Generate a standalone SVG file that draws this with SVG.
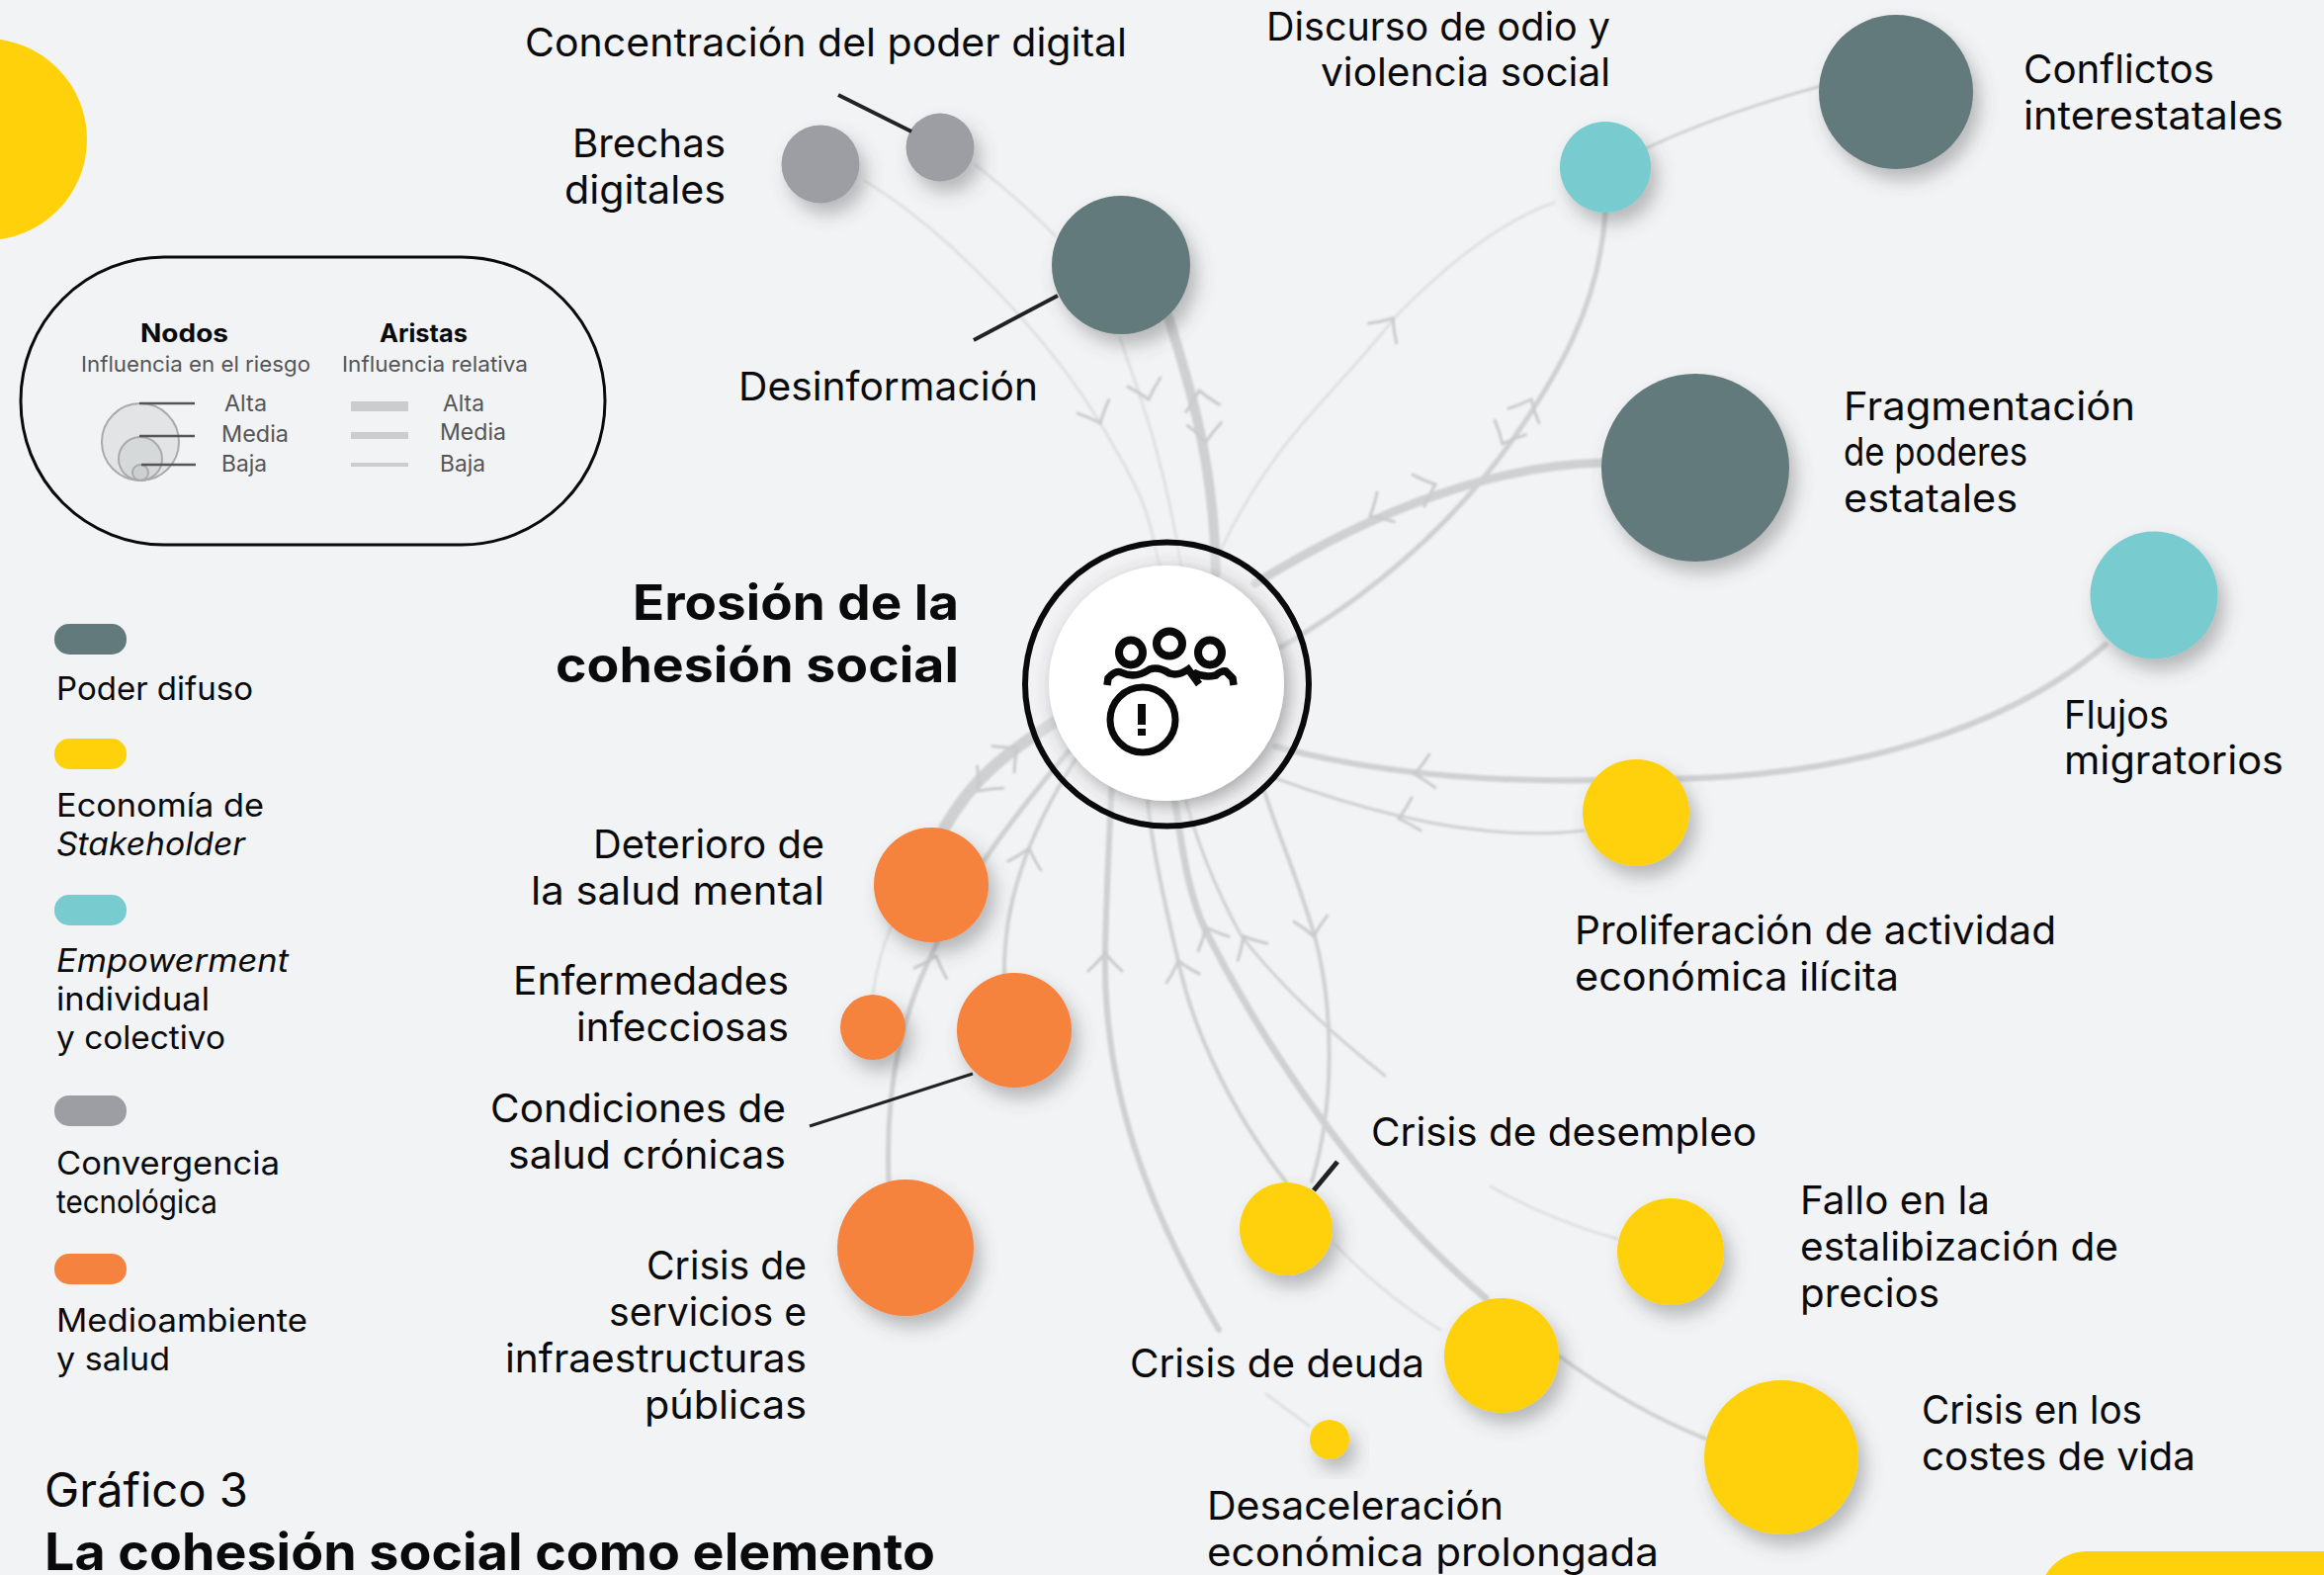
<svg xmlns="http://www.w3.org/2000/svg" xmlns:xlink="http://www.w3.org/1999/xlink" width="2351" height="1593" viewBox="0 0 2351 1593">
<style>
text{font-family:Inter,"Liberation Sans",sans-serif;fill:#0a0a0a}
.l{font-size:40px}
.c{font-size:33px}
.t{font-size:50px;font-weight:700}
.n{font-size:25px;font-weight:700}
.s{font-size:22px;fill:#555}
.m{font-size:23px;fill:#555}
.e{fill:none;stroke:#cfd0d2;stroke-linecap:round}
.f{fill:none;stroke:#dfe0e2;stroke-linecap:round;stroke-width:3}
.a{fill:none;stroke:#c9cacc;stroke-width:3}
.k{stroke:#222;fill:none}
.sh{filter:url(#ds)}
.g{fill:#627a7b}.y{fill:#ffd10a}.b{fill:#78cbcf}.h{fill:#9d9ea3}.o{fill:#f5823e}
</style>
<defs>
<filter id="ds" x="-40%" y="-40%" width="190%" height="190%"><feDropShadow dx="7" dy="11" stdDeviation="9" flood-color="#555" flood-opacity=".38"/></filter>
<filter id="dw" x="-20%" y="-20%" width="150%" height="150%"><feDropShadow dx="5" dy="5" stdDeviation="9" flood-color="#444" flood-opacity=".45"/></filter>
<filter id="soft" x="0" y="0" width="100%" height="100%" filterUnits="userSpaceOnUse"><feGaussianBlur stdDeviation=".8"/></filter>
<path id="ch" d="M-18,19 Q-8,10 0,0 Q8,10 18,19"/>
</defs>
<rect width="2351" height="1593" fill="#f2f3f5"/>
<circle cx="-14" cy="141" r="102" class="y"/>
<rect x="2063" y="1569" width="400" height="110" rx="48" class="y"/>

<g id="connectors" filter="url(#soft)">
<path class="f" d="M875,183 C960,235 1060,340 1113,428 S1160,520 1175,580"/>
<path class="f" d="M987,167 Q1035,205 1067,238"/>
<path class="f" d="M1133,342 C1150,390 1180,470 1196,580"/>
<path class="e" stroke-width="10" d="M1182,321 C1200,380 1228,460 1230,580"/>
<path class="f" d="M1233,560 C1290,440 1350,400 1411,321 Q1500,230 1572,205"/>
<path class="e" stroke-width="5" d="M1624,215 C1618,310 1575,380 1530,445 C1470,530 1390,600 1295,655"/>
<path class="e" stroke-width="3" d="M1665,150 Q1740,115 1842,87"/>
<path class="e" stroke-width="9" d="M1621,468 C1520,470 1400,510 1270,590"/>
<path class="e" stroke-width="6" d="M2130,652 C2040,730 1880,790 1660,788 C1560,792 1420,790 1290,755"/>
<path class="e" stroke-width="3" d="M1602,840 C1520,850 1420,835 1290,787"/>
<path class="e" stroke-width="12" d="M955,838 C985,785 1020,760 1075,725"/>
<path class="f" d="M883,1005 Q888,970 901,938"/>
<path class="e" stroke-width="5" d="M899,1195 C895,1090 915,1020 945,960 C975,890 1030,820 1085,755"/>
<path class="e" stroke-width="4" d="M1016,986 C1015,920 1035,850 1090,765"/>
<path class="e" stroke-width="6" d="M1233,1345 C1160,1220 1115,1100 1118,960 Q1120,880 1125,790"/>
<path class="f" d="M1281,1410 L1324,1442"/>
<path class="e" stroke-width="4" d="M1302,1197 C1250,1130 1210,1050 1194,981 C1180,920 1165,860 1160,800"/>
<path class="e" stroke-width="7" d="M1503,1313 C1380,1210 1280,1060 1220,942 C1200,900 1195,850 1187,800"/>
<path class="f" d="M1350,1258 Q1400,1310 1457,1345"/>
<path class="e" stroke-width="4" d="M1578,1372 Q1650,1425 1725,1455"/>
<path class="f" d="M1508,1200 Q1570,1235 1636,1253"/>
<path class="e" stroke-width="3" d="M1401,1088 C1340,1040 1290,990 1256,947 C1230,900 1210,850 1197,800"/>
<path class="e" stroke-width="4" d="M1327,1195 C1350,1120 1350,1020 1330,947 C1310,880 1295,850 1279,800"/>
<g class="a">
<use href="#ch" transform="translate(1113,428) rotate(157)"/>
<use href="#ch" transform="translate(1162,404) rotate(165)"/>
<use href="#ch" transform="translate(1213,395) rotate(-12)"/>
<use href="#ch" transform="translate(1220,447) rotate(175)"/>
<use href="#ch" transform="translate(1409,322) rotate(35)"/>
<use href="#ch" transform="translate(1549,404) rotate(25)"/>
<use href="#ch" transform="translate(1520,449) rotate(205)"/>
<use href="#ch" transform="translate(1452,490) rotate(70)"/>
<use href="#ch" transform="translate(1386,522) rotate(240)"/>
<use href="#ch" transform="translate(1431,783) rotate(260)"/>
<use href="#ch" transform="translate(1415,828) rotate(255)"/>
<use href="#ch" transform="translate(1029,756) rotate(50)"/>
<use href="#ch" transform="translate(990,800) rotate(220)"/>
<use href="#ch" transform="translate(947,967) rotate(18)"/>
<use href="#ch" transform="translate(1041,858) rotate(15)"/>
<use href="#ch" transform="translate(1118,964) rotate(0)"/>
<use href="#ch" transform="translate(1192,972) rotate(-15)"/>
<use href="#ch" transform="translate(1220,938) rotate(-25)"/>
<use href="#ch" transform="translate(1258,947) rotate(-30)"/>
<use href="#ch" transform="translate(1329,947) rotate(170)"/>
</g>
</g>

<g id="legend-size">
<rect x="21" y="260" width="591" height="291" rx="145" fill="none" stroke="#0a0a0a" stroke-width="3"/>
<text class="n" x="142" y="346" textLength="89" lengthAdjust="spacingAndGlyphs">Nodos</text>
<text class="s" x="82" y="376" textLength="232" lengthAdjust="spacingAndGlyphs">Influencia en el riesgo</text>
<text class="n" x="384" y="346" textLength="89" lengthAdjust="spacingAndGlyphs">Aristas</text>
<text class="s" x="346" y="376" textLength="188" lengthAdjust="spacingAndGlyphs">Influencia relativa</text>
<g fill="#b5b6b8" fill-opacity=".25" stroke="#a9aaac" stroke-width="2">
<circle cx="142" cy="447" r="39"/><circle cx="142" cy="464" r="22"/><circle cx="142" cy="478" r="8"/>
</g>
<g stroke="#555" stroke-width="2.5">
<line x1="141" y1="408" x2="197" y2="408"/><line x1="141" y1="441" x2="197" y2="441"/><line x1="143" y1="470" x2="198" y2="470"/>
</g>
<text class="m" x="227" y="416" textLength="43" lengthAdjust="spacingAndGlyphs">Alta</text>
<text class="m" x="224" y="447" textLength="68" lengthAdjust="spacingAndGlyphs">Media</text>
<text class="m" x="224" y="477" textLength="46" lengthAdjust="spacingAndGlyphs">Baja</text>
<g fill="#cbccce"><rect x="355" y="406" width="58" height="10"/><rect x="355" y="437" width="58" height="7"/><rect x="355" y="468" width="58" height="4"/></g>
<text class="m" x="448" y="416" textLength="42" lengthAdjust="spacingAndGlyphs">Alta</text>
<text class="m" x="445" y="445" textLength="67" lengthAdjust="spacingAndGlyphs">Media</text>
<text class="m" x="445" y="477" textLength="46" lengthAdjust="spacingAndGlyphs">Baja</text>
</g>

<g id="legend-categories">
<rect x="55" y="631" width="73" height="31" rx="15" class="g"/>
<text class="c" x="57" y="707.500" textLength="199" lengthAdjust="spacingAndGlyphs">Poder difuso</text>
<rect x="55" y="747" width="73" height="31" rx="15" class="y"/>
<text class="c" x="57" y="826" textLength="210" lengthAdjust="spacingAndGlyphs">Economía de</text>
<text class="c" x="57" y="865" textLength="191" lengthAdjust="spacingAndGlyphs" font-style="italic">Stakeholder</text>
<rect x="55" y="905" width="73" height="31" rx="15" class="b"/>
<text class="c" x="57" y="983" textLength="235" lengthAdjust="spacingAndGlyphs" font-style="italic">Empowerment</text>
<text class="c" x="57" y="1022" textLength="155" lengthAdjust="spacingAndGlyphs">individual</text>
<text class="c" x="57" y="1061" textLength="171" lengthAdjust="spacingAndGlyphs">y colectivo</text>
<rect x="55" y="1108" width="73" height="31" rx="15" class="h"/>
<text class="c" x="57" y="1187.500" textLength="226" lengthAdjust="spacingAndGlyphs">Convergencia</text>
<text class="c" x="57" y="1226.500" textLength="163" lengthAdjust="spacingAndGlyphs">tecnológica</text>
<rect x="55" y="1268" width="73" height="31" rx="15" class="o"/>
<text class="c" x="57" y="1346.500" textLength="254" lengthAdjust="spacingAndGlyphs">Medioambiente</text>
<text class="c" x="57" y="1385.500" textLength="115" lengthAdjust="spacingAndGlyphs">y salud</text>
</g>

<g id="node-center">
<circle cx="1180.500" cy="692" r="143" fill="#f2f3f5" fill-opacity=".3"/>
<circle cx="1180.500" cy="692" r="143.500" fill="none" stroke="#0a0a0a" stroke-width="6"/>
<circle cx="1180" cy="691" r="119" fill="#fff" filter="url(#dw)"/>
<g fill="none" stroke="#0a0a0a">
<ellipse cx="1144" cy="660" rx="12" ry="12.500" stroke-width="8"/>
<ellipse cx="1183" cy="651" rx="13" ry="12.500" stroke-width="8"/>
<ellipse cx="1224" cy="660" rx="12" ry="12.500" stroke-width="8"/>
<path stroke-width="7.500" d="M1120,693 L1121,686 Q1128,678 1134,680 Q1148,687 1163,677 Q1172,674 1183,681 Q1192,684 1202,677 L1213,692 M1207,680 Q1218,686 1230,683 Q1236,678 1240,679 L1247,686 L1248,693"/>
<circle cx="1156" cy="728" r="33" stroke-width="7"/>
</g>
<rect x="1151" y="712" width="8" height="21" fill="#0a0a0a"/><rect x="1151" y="737" width="8" height="7" fill="#0a0a0a"/>
<text class="t" x="640" y="627" textLength="330" lengthAdjust="spacingAndGlyphs">Erosión de la</text>
<text class="t" x="562" y="690" textLength="408" lengthAdjust="spacingAndGlyphs">cohesión social</text>
</g>

<g id="node-concentracion">
<circle cx="951" cy="149" r="34.500" class="h sh"/>
<line x1="848" y1="96" x2="922" y2="133" class="k" stroke-width="4"/>
<text class="l" x="531" y="57" textLength="609" lengthAdjust="spacingAndGlyphs">Concentración del poder digital</text>
</g>
<g id="node-brechas">
<circle cx="830" cy="166" r="39.500" class="h sh"/>
<text class="l" x="579" y="159" textLength="155" lengthAdjust="spacingAndGlyphs">Brechas</text>
<text class="l" x="571" y="206" textLength="163" lengthAdjust="spacingAndGlyphs">digitales</text>
</g>
<g id="node-desinformacion">
<circle cx="1134" cy="268" r="70" class="g sh"/>
<line x1="985" y1="344" x2="1070" y2="299" class="k" stroke-width="4"/>
<text class="l" x="747" y="405" textLength="303" lengthAdjust="spacingAndGlyphs">Desinformación</text>
</g>
<g id="node-discurso">
<circle cx="1624" cy="169" r="46" class="b sh"/>
<text class="l" x="1281" y="41" textLength="348" lengthAdjust="spacingAndGlyphs">Discurso de odio y</text>
<text class="l" x="1336" y="87" textLength="293" lengthAdjust="spacingAndGlyphs">violencia social</text>
</g>
<g id="node-conflictos">
<circle cx="1918" cy="93" r="78" class="g sh"/>
<text class="l" x="2047" y="84" textLength="193" lengthAdjust="spacingAndGlyphs">Conflictos</text>
<text class="l" x="2047" y="131" textLength="263" lengthAdjust="spacingAndGlyphs">interestatales</text>
</g>
<g id="node-fragmentacion">
<circle cx="1715" cy="473" r="95" class="g sh"/>
<text class="l" x="1865" y="425" textLength="295" lengthAdjust="spacingAndGlyphs">Fragmentación</text>
<text class="l" x="1865" y="471" textLength="186" lengthAdjust="spacingAndGlyphs">de poderes</text>
<text class="l" x="1865" y="518" textLength="176" lengthAdjust="spacingAndGlyphs">estatales</text>
</g>
<g id="node-flujos">
<circle cx="2179" cy="602" r="64.500" class="b sh"/>
<text class="l" x="2088" y="737" textLength="106" lengthAdjust="spacingAndGlyphs">Flujos</text>
<text class="l" x="2088" y="783" textLength="222" lengthAdjust="spacingAndGlyphs">migratorios</text>
</g>
<g id="node-proliferacion">
<circle cx="1655" cy="822" r="54" class="y sh"/>
<text class="l" x="1593" y="955" textLength="487" lengthAdjust="spacingAndGlyphs">Proliferación de actividad</text>
<text class="l" x="1593" y="1002" textLength="328" lengthAdjust="spacingAndGlyphs">económica ilícita</text>
</g>
<g id="node-deterioro">
<circle cx="942" cy="895" r="58" class="o sh"/>
<text class="l" x="600" y="868" textLength="234" lengthAdjust="spacingAndGlyphs">Deterioro de</text>
<text class="l" x="537" y="915" textLength="297" lengthAdjust="spacingAndGlyphs">la salud mental</text>
</g>
<g id="node-enfermedades">
<circle cx="883" cy="1039" r="33" class="o sh"/>
<text class="l" x="519" y="1006" textLength="279" lengthAdjust="spacingAndGlyphs">Enfermedades</text>
<text class="l" x="583" y="1053" textLength="215" lengthAdjust="spacingAndGlyphs">infecciosas</text>
</g>
<g id="node-condiciones">
<circle cx="1026" cy="1042" r="58" class="o sh"/>
<line x1="819" y1="1139" x2="984" y2="1086" class="k" stroke-width="3"/>
<text class="l" x="496" y="1135" textLength="299" lengthAdjust="spacingAndGlyphs">Condiciones de</text>
<text class="l" x="514" y="1182" textLength="281" lengthAdjust="spacingAndGlyphs">salud crónicas</text>
</g>
<g id="node-servicios">
<circle cx="916" cy="1262" r="69" class="o sh"/>
<text class="l" x="654" y="1294" textLength="162" lengthAdjust="spacingAndGlyphs">Crisis de</text>
<text class="l" x="616" y="1341" textLength="200" lengthAdjust="spacingAndGlyphs">servicios e</text>
<text class="l" x="511" y="1388" textLength="305" lengthAdjust="spacingAndGlyphs">infraestructuras</text>
<text class="l" x="652" y="1435" textLength="164" lengthAdjust="spacingAndGlyphs">públicas</text>
</g>
<g id="node-desempleo">
<circle cx="1301" cy="1243" r="47" class="y sh"/>
<line x1="1329" y1="1204" x2="1353" y2="1175" class="k" stroke-width="5"/>
<text class="l" x="1387" y="1159" textLength="390" lengthAdjust="spacingAndGlyphs">Crisis de desempleo</text>
</g>
<g id="node-fallo">
<circle cx="1690" cy="1266" r="54" class="y sh"/>
<text class="l" x="1821" y="1228" textLength="192" lengthAdjust="spacingAndGlyphs">Fallo en la</text>
<text class="l" x="1821" y="1275" textLength="322" lengthAdjust="spacingAndGlyphs">estalibización de</text>
<text class="l" x="1821" y="1322" textLength="141" lengthAdjust="spacingAndGlyphs">precios</text>
</g>
<g id="node-deuda">
<circle cx="1519" cy="1371" r="58" class="y sh"/>
<text class="l" x="1143" y="1393" textLength="298" lengthAdjust="spacingAndGlyphs">Crisis de deuda</text>
</g>
<g id="node-costes">
<circle cx="1802" cy="1474" r="78" class="y sh"/>
<text class="l" x="1944" y="1440" textLength="223" lengthAdjust="spacingAndGlyphs">Crisis en los</text>
<text class="l" x="1944" y="1487" textLength="277" lengthAdjust="spacingAndGlyphs">costes de vida</text>
</g>
<g id="node-desaceleracion">
<circle cx="1345" cy="1456" r="20" class="y sh"/>
<text class="l" x="1221" y="1537" textLength="300" lengthAdjust="spacingAndGlyphs">Desaceleración</text>
<text class="l" x="1221" y="1584" textLength="457" lengthAdjust="spacingAndGlyphs">económica prolongada</text>
</g>

<g id="title">
<text x="45" y="1524" font-size="48" textLength="206" lengthAdjust="spacingAndGlyphs">Gráfico 3</text>
<text x="45" y="1588" font-size="52" font-weight="700" textLength="901" lengthAdjust="spacingAndGlyphs">La cohesión social como elemento</text>
</g>
</svg>
